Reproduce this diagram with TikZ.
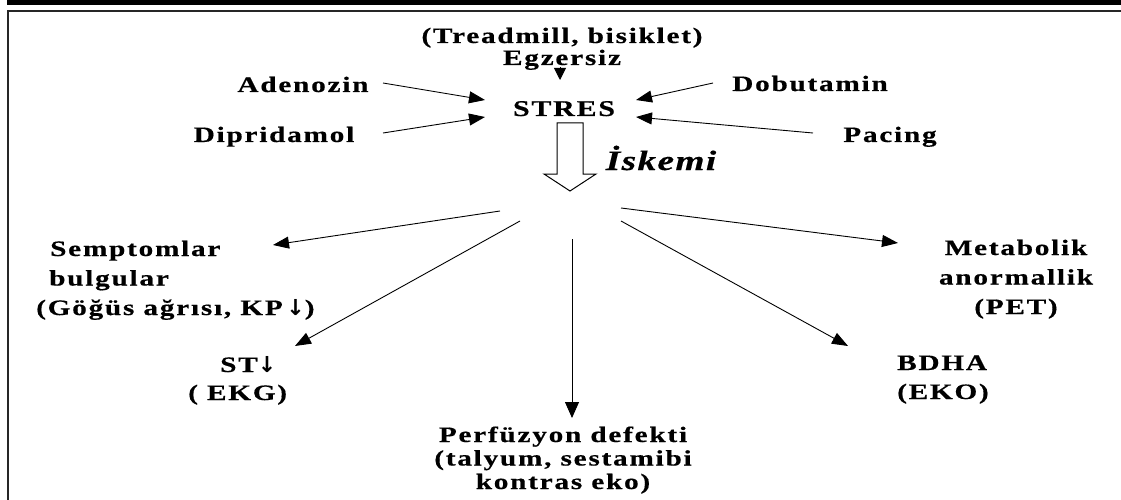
\documentclass[tikz,border=0pt]{standalone}
\usepackage{fontspec}
\setmainfont{Liberation Serif}
\newfontfamily\lsf{Liberation Serif}[LetterSpace=8, FakeStretch=1.33, FakeBold=0.5]
\newfontfamily\lsfi{Liberation Serif}[LetterSpace=5, FakeStretch=1.33, FakeBold=0.5]
\newfontfamily\arrf{DejaVu Sans}
\newcommand{\dnarr}{{\arrf\bfseries\fontsize{22}{22}\selectfont ↓}}
\usetikzlibrary{arrows.meta}
\tikzset{
  lbl/.style={font=\lsf\bfseries\fontsize{22}{29}\selectfont, inner sep=0pt},
  isk/.style={font=\lsfi\bfseries\itshape\fontsize{28}{30}\selectfont, inner sep=0pt},
  arr/.style={line width=0.9pt, -{Triangle[length=16pt,width=12pt]}},
  frameline/.style={line width=1.6pt, black!85},
  hollow/.style={line width=1pt, draw=black, fill=white},
}
\begin{document}
\begin{tikzpicture}[x=1pt,y=-1pt]
\useasboundingbox (0,0) rectangle (1121,500);
% frame
\fill (7,0) rectangle (1121,5);
\draw[frameline] (7,11) -- (1121,11);
\draw[frameline] (8,10.2) -- (8,500);
% top texts
\node[lbl, anchor=base] (tread) at (562,43) {(Treadmill, bisiklet)};
\node[lbl, anchor=base] (egz) at (562,65) {Egzersiz};
\node[lbl, anchor=base] (ade) at (303,92) {Adenozin};
\node[lbl, anchor=base] (dip) at (274,142) {Dipridamol};
\node[lbl, anchor=base] (dob) at (810,91) {Dobutamin};
\node[lbl, anchor=base] (pac) at (890,142) {Pacing};
\node[lbl, anchor=base, font=\lsf\bfseries\fontsize{22.5}{26}\selectfont] (stres) at (564,116) {STRES};
\node[isk, anchor=base] (iskemi) at (661,170) {İskemi};
% hollow arrow
\draw[hollow] (557,123) -- (583,123) -- (583,174) -- (596,174) -- (570,191) -- (544,174) -- (557,174) -- cycle;
% outcomes (base = last line)
\node[lbl, anchor=base west, align=left, font=\lsf\bfseries\fontsize{22}{29.5}\selectfont] (semp) at (36,315) {\hspace*{14pt}Semptomlar\\\hspace*{13pt}bulgular\\(Göğüs ağrısı, KP\,\dnarr)};
\node[lbl, anchor=base west, align=left, font=\lsf\bfseries\fontsize{22}{28}\selectfont] (st) at (188,400) {\hspace*{32pt}ST\dnarr\\( EKG)};
\node[lbl, anchor=base, align=center, font=\lsf\bfseries\fontsize{22}{23.5}\selectfont] (perf) at (563,489) {Perfüzyon defekti\\(talyum, sestamibi\\kontras eko)};
\node[lbl, anchor=base west, align=left, font=\lsf\bfseries\fontsize{22}{29}\selectfont] (bdha) at (897,399) {BDHA\\(EKO)};
\node[lbl, anchor=base, align=center, font=\lsf\bfseries\fontsize{22}{29.5}\selectfont] (meta) at (1016,314) {Metabolik\\anormallik\\(PET)};
% connector ends
\coordinate (adeS) at (383,83);   \coordinate (adeT) at (485,100);
\coordinate (dipS) at (383,133);  \coordinate (dipT) at (485,117);
\coordinate (dobS) at (713,83);   \coordinate (dobT) at (636,100);
\coordinate (pacS) at (813,133);  \coordinate (pacT) at (636,117);
\coordinate (egzS) at (560,67);   \coordinate (egzT) at (560,80);
\coordinate (sempS) at (500,211); \coordinate (sempT) at (273,245);
\coordinate (stS) at (520,221);   \coordinate (stT) at (295,346);
\coordinate (perfS) at (572,239); \coordinate (perfT) at (572,418);
\coordinate (metaS) at (621,208); \coordinate (metaT) at (898,243);
\coordinate (bdhaS) at (621,221); \coordinate (bdhaT) at (848,346);
% connectors
\draw[arr] (adeS) -- (adeT);
\draw[arr] (dipS) -- (dipT);
\draw[arr] (dobS) -- (dobT);
\draw[arr] (pacS) -- (pacT);
\draw[line width=0.9pt, -{Triangle[length=12pt,width=12pt]}] (egzS) -- (egzT);
\draw[arr] (sempS) -- (sempT);
\draw[arr] (stS) -- (stT);
\draw[line width=0.9pt, -{Triangle[length=16pt,width=14pt]}] (perfS) -- (perfT);
\draw[arr] (metaS) -- (metaT);
\draw[arr] (bdhaS) -- (bdhaT);
\end{tikzpicture}
\end{document}
